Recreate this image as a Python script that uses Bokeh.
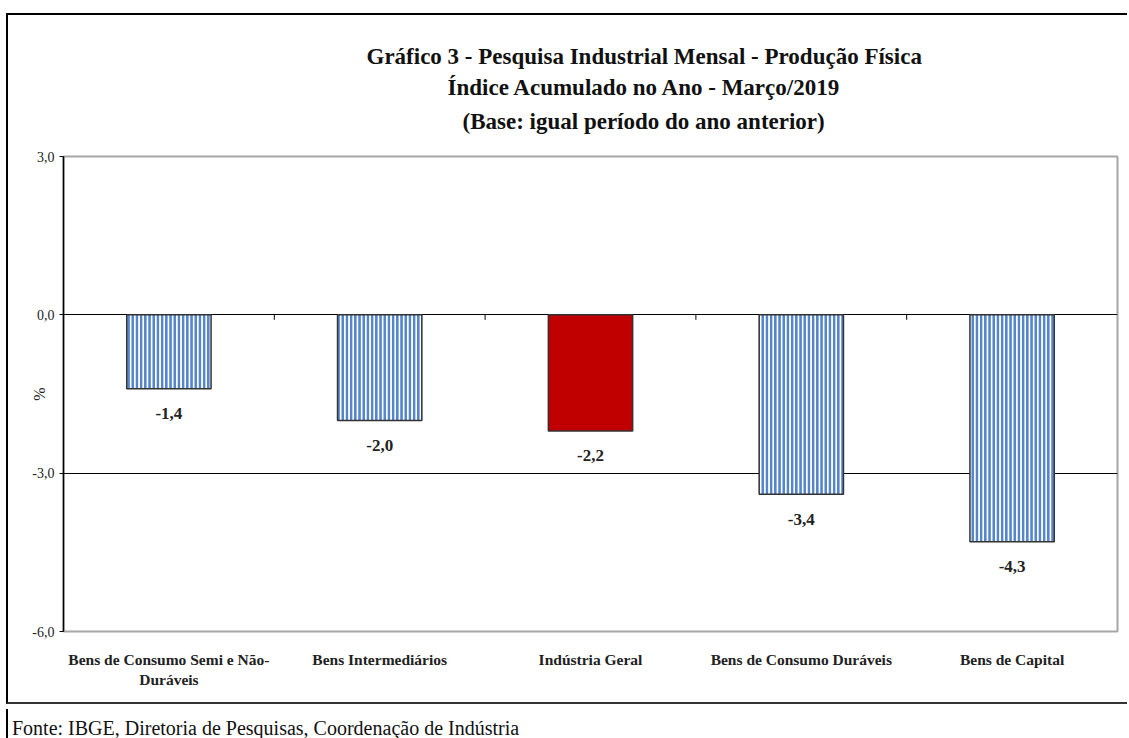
import numpy as np
from bokeh.plotting import figure
from bokeh.layouts import column
from bokeh.models import (ColumnDataSource, Range1d, FixedTicker, CustomJSTickFormatter,
                          Title, Div)
from bokeh.core.properties import value, field
from bokeh.embed import file_html
from bokeh.resources import INLINE

# ---------------- data ----------------
categories = ["Bens de Consumo Semi e Não-\nDuráveis", "Bens Intermediários",
              "Indústria Geral", "Bens de Consumo Duráveis", "Bens de Capital"]
values = [-1.4, -2.0, -2.2, -3.4, -4.3]
highlight = "Indústria Geral"
y_ticks = [-6.0, -3.0, 0.0, 3.0]
grid_ticks = [-3.0, 0.0]
title_lines = ["Gráfico 3 - Pesquisa Industrial Mensal - Produção Física",
               "Índice Acumulado no Ano - Março/2019",
               "(Base: igual período do ano anterior)"]
source_note = "Fonte: IBGE, Diretoria de Pesquisas, Coordenação de Indústria"
y_label = "%"

# ---------------- layout ----------------
W, H = 1121, 691
FL, FT, FR, FB = 55, 141, 12, 75
FH = H - FT - FB
FONT = "Liberation Serif"
BLUE = "#5586CC"

n = len(categories)
xc = np.arange(n) + 0.5
bounds = np.arange(1, n)
labels = [f"{v:.1f}".replace(".", ",") for v in values]
is_hl = [c == highlight for c in categories]

src = ColumnDataSource(dict(
    x=xc, top=values, label=labels,
    fill=["#C00000" if h else "white" for h in is_hl],
    pattern=[" " if h else "vertical_line" for h in is_hl],
))

p = figure(width=W, height=H, x_range=Range1d(0, n), y_range=Range1d(-6, 3),
           output_backend="svg", toolbar_location=None,
           min_border_left=FL, min_border_top=FT, min_border_right=FR, min_border_bottom=FB,
           styles={"border-top": "2px solid black", "border-left": "2px solid black",
                   "border-bottom": "2px solid #333333",
                   "margin-left": "6px", "margin-top": "13px"})
p.background_fill_color = "white"
p.border_fill_color = "white"
p.outline_line_color = "#A6A6A6"
p.outline_line_width = 2

# grid
p.xgrid.visible = False
p.ygrid.ticker = FixedTicker(ticks=grid_ticks)
p.ygrid.grid_line_color = "black"
p.ygrid.grid_line_width = 1

# y axis
p.yaxis.ticker = FixedTicker(ticks=y_ticks)
p.yaxis.formatter = CustomJSTickFormatter(code="return tick.toFixed(1).replace('.', ',');")
p.yaxis.axis_line_color = "black"
p.yaxis.axis_line_width = 1.5
p.yaxis.major_tick_out = 4
p.yaxis.major_tick_in = 0
p.yaxis.major_tick_line_color = "black"
p.yaxis.minor_tick_line_color = None
p.yaxis.major_label_standoff = 5
p.yaxis.major_label_text_font = FONT
p.yaxis.major_label_text_font_size = "14px"
p.yaxis.major_label_text_color = "#222222"
p.yaxis.axis_label = y_label
p.yaxis.axis_label_standoff = -19
p.yaxis.axis_label_text_font = FONT
p.yaxis.axis_label_text_font_size = "16px"
p.yaxis.axis_label_text_font_style = "normal"
p.yaxis.axis_label_text_color = "#222222"

# x axis (category labels)
p.xaxis.ticker = FixedTicker(ticks=list(xc))
p.xaxis.formatter = CustomJSTickFormatter(args=dict(labels=categories),
                                          code="return labels[Math.floor(tick)];")
p.xaxis.axis_line_color = None
p.xaxis.major_tick_line_color = None
p.xaxis.minor_tick_line_color = None
p.xaxis.major_label_standoff = 13
p.xaxis.major_label_text_font = FONT
p.xaxis.major_label_text_font_size = "15.5px"
p.xaxis.major_label_text_font_style = "bold"
p.xaxis.major_label_text_color = "#222222"

# bars
p.vbar(x="x", top="top", bottom=0, width=0.4, source=src,
       fill_color="fill", line_color="#333333", line_width=1.5,
       hatch_pattern=field("pattern"), hatch_color=BLUE, hatch_weight=2.8, hatch_scale=4.2)

# category boundary ticks on zero line
tick_len = 5 * 9 / FH
p.segment(x0=bounds, y0=0, x1=bounds, y1=-tick_len, line_color="black", line_width=1)

# value labels
p.text(x="x", y="top", text="label", source=src, y_offset=25,
       text_align="center", text_baseline="middle",
       text_font=value(FONT), text_font_size="17px", text_font_style="bold",
       text_color="#222222")

# spacer between frame and title block
p.add_layout(Title(text=" ", standoff=6, text_font=FONT, text_font_size="10px"), "above")

# title lines (first added is nearest the frame)
title_offsets = [303, 384, 399]
title_standoffs = [4, 5, 8]
for t, off, so in reversed(list(zip(title_lines, title_offsets, title_standoffs))):
    p.add_layout(Title(text=t, align="left", offset=off, standoff=so,
                       text_font=FONT, text_font_size="23px", text_font_style="bold",
                       text_color="#111111"), "above")

footer = Div(text=source_note, width=W, height=30,
             styles={"border-left": "2px solid black", "margin-left": "6px",
                     "padding-left": "4px", "font-family": FONT, "font-size": "20px",
                     "color": "#111111", "line-height": "38px", "white-space": "nowrap",
                     "overflow": "hidden"})

layout = column(p, footer, spacing=0)

open("out.html", "w").write(file_html(layout, INLINE))
